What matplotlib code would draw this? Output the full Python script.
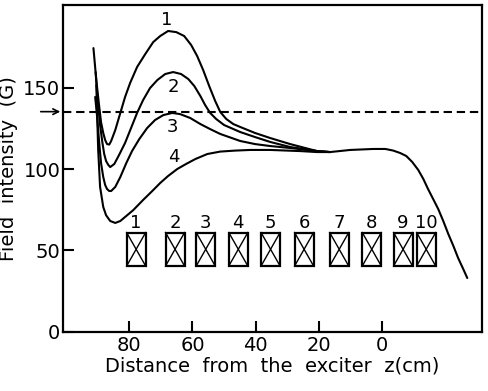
import numpy as np
import matplotlib
matplotlib.use('Agg')
import matplotlib.pyplot as plt
from matplotlib.patches import Rectangle

# curves: z (cm) and field intensity (G)
z1 = [91.3, 90.4, 89.5, 88.9, 88.2, 87.6, 87.0, 86.3, 85.7, 84.4, 82.8, 81.3, 79.7, 77.5, 74.9,
      72.4, 70.2, 67.7, 65.1, 62.6, 60.4, 58.5, 56.6, 54.7, 52.8, 51.2, 49.3, 47.1, 44.9,
      40.2, 35.4, 29.1, 20.6, 16.5]
b1 = [174.2, 154.6, 138.7, 128.8, 122.1, 117.8, 115.3, 115.0, 117.2, 123.9, 134.4, 144.2, 152.8, 162.6, 170.6,
      177.9, 181.6, 184.7, 184.0, 181.6, 176.1, 169.3, 160.7, 150.9, 141.7, 135.0, 130.7, 127.6, 125.8,
      122.1, 119.0, 115.3, 111.0, 110.4]

z2 = [90.6, 90.1, 89.2, 88.5, 87.9, 87.3, 86.6, 86.0, 84.7, 83.2, 81.3, 79.4, 77.5, 75.6, 73.4,
      71.1, 68.6, 66.1, 63.6, 61.3, 59.4, 57.5, 56.0, 54.4, 52.5, 50.0, 44.9, 40.2, 35.4,
      29.1, 20.6, 16.5]
b2 = [159.5, 145.4, 127.0, 116.6, 109.2, 104.9, 102.5, 101.2, 103.1, 108.6, 116.0, 125.2, 134.4, 142.3, 149.7,
      154.6, 158.3, 159.5, 158.3, 155.2, 150.9, 144.8, 139.3, 134.4, 130.7, 127.0, 122.7, 119.6, 116.6,
      113.5, 111.0, 110.4]

z3 = [90.75, 90.1, 89.5, 88.9, 88.2, 87.6, 87.0, 86.3, 85.7, 84.4, 82.8, 80.9, 79.1, 76.8, 74.3,
      71.8, 69.2, 66.4, 63.9, 60.7, 57.5, 54.4, 51.2, 44.9, 40.2, 35.4, 29.1, 20.6, 16.5]
b3 = [144.2, 131.3, 116.6, 103.7, 95.1, 90.2, 87.7, 86.5, 86.5, 89.0, 95.1, 103.7, 111.0, 118.4, 125.2,
      130.1, 133.1, 134.4, 133.7, 131.3, 127.6, 124.5, 121.5, 117.2, 115.3, 114.1, 112.9, 111.0, 110.4]

z4 = [90.4, 89.8, 89.2, 88.2, 87.3, 86.0, 84.4, 82.8, 80.9, 78.7, 75.6, 72.7, 70.2, 67.7, 64.8,
      62.0, 59.1, 55.3, 51.2, 46.5, 41.7, 35.4, 25.9, 20.6, 16.5, 10.1, 2.8, -1.0, -3.5,
      -5.7, -7.6, -9.5, -11.4, -13.0, -14.5, -16.1, -17.7, -19.3, -20.9, -22.5, -24.0, -25.6, -26.9]
b4 = [151.5, 111.7, 89.0, 76.7, 71.6, 68.1, 66.9, 68.1, 71.2, 74.8, 81.0, 86.5, 91.4, 95.7, 100.0,
      103.1, 106.1, 109.2, 110.7, 111.3, 111.7, 111.7, 111.0, 110.4, 110.4, 111.7, 112.3, 112.3, 111.3,
      109.8, 108.0, 104.3, 99.4, 93.9, 87.7, 81.6, 75.5, 68.1, 60.1, 52.8, 45.4, 38.7, 33.1]

curves = [(z1, b1), (z2, b2), (z3, b3), (z4, b4)]
curve_labels = ['1', '2', '3', '4']
curve_label_z = [68.1, 66.0, 66.2, 66.0]
curve_label_b = [191.4, 150.1, 126.0, 107.6]

# coil positions (centre z, cm)
coil_z = [77.8, 65.5, 55.8, 45.5, 35.3, 24.7, 13.6, 3.3, -6.6, -13.9]
coil_names = ['1', '2', '3', '4', '5', '6', '7', '8', '9', '10']
coil_w = 6.0
coil_lo, coil_hi = 40.5, 61.0

b_line = 135.2  # dashed reference level

xticks = [80, 60, 40, 20, 0]
yticks = [0, 50, 100, 150]

plt.rcParams['font.family'] = 'DejaVu Sans'
fig = plt.figure(figsize=(4.89, 3.91), dpi=100)
ax = fig.add_axes([0.129, 0.151, 0.857, 0.836])

for z, b in curves:
    ax.plot(z, b, color='black', lw=1.5, solid_capstyle='round', solid_joinstyle='round')

for i in range(len(curve_labels)):
    ax.text(curve_label_z[i], curve_label_b[i], curve_labels[i], fontsize=13,
            ha='center', va='center')

ax.axhline(b_line, color='black', lw=1.5, dashes=(4, 2.3))
ax.annotate('', xy=(0.0, b_line), xytext=(-0.06, b_line),
            xycoords=('axes fraction', 'data'), textcoords=('axes fraction', 'data'),
            arrowprops=dict(arrowstyle='->', lw=1.2, color='black'),
            annotation_clip=False)

for i in range(len(coil_z)):
    x0 = coil_z[i] - coil_w / 2
    x1 = coil_z[i] + coil_w / 2
    ax.add_patch(Rectangle((x0, coil_lo), coil_w, coil_hi - coil_lo,
                           fill=False, lw=1.6, edgecolor='black'))
    ax.plot([x0, x1], [coil_lo, coil_hi], color='black', lw=1.0)
    ax.plot([x0, x1], [coil_hi, coil_lo], color='black', lw=1.0)
    ax.text(coil_z[i], 66.6, coil_names[i], fontsize=13, ha='center', va='center')

ax.set_xlim(100.9, -31.6)
ax.set_ylim(0, 200.6)
ax.set_xticks(xticks)
ax.set_yticks(yticks)
ax.tick_params(direction='in', length=8, width=1.5, labelsize=14, pad=3)
ax.tick_params(axis='y', pad=2)
for s in ax.spines.values():
    s.set_linewidth(1.6)

ax.set_xlabel('Distance  from  the  exciter  z(cm)', fontsize=14, labelpad=1)
ax.set_ylabel('Field  intensity  (G)', fontsize=14, labelpad=4)

fig.savefig('out.png', dpi=100)
